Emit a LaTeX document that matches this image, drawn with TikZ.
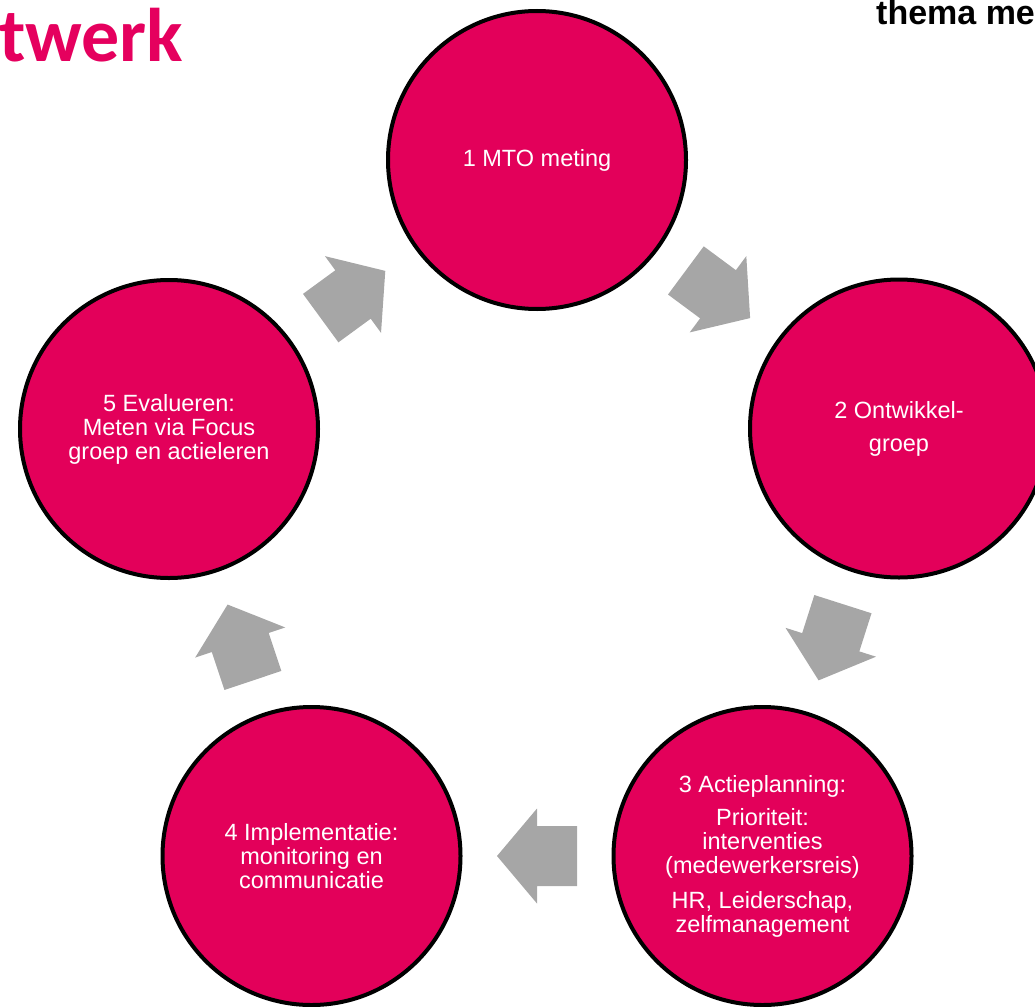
\documentclass[tikz,border=0pt]{standalone}
\usepackage{fontspec}
\setmainfont{Liberation Sans}
\newfontfamily\titlefont{Carlito}
\usetikzlibrary{calc}
\definecolor{mtopink}{HTML}{E3005A}
\definecolor{titlepink}{HTML}{E5005E}
\definecolor{arrowgray}{HTML}{A6A6A6}
\tikzset{
    stage/.style={circle, draw=black, line width=4pt, fill=mtopink, minimum size=298pt, inner sep=0pt, text=white, align=center, font=\fontsize{23.5}{24}\selectfont},
    heading/.style={anchor=base west, inner sep=0pt},
    cyclearrow/.pic={\fill[arrowgray] (-40,-30) -- (0,-30) -- (0,-47.5) -- (40,0) -- (0,47.5) -- (0,30) -- (-40,30) -- cycle;}
}

\begin{document}
\begin{tikzpicture}[x=1pt, y=-1pt]
    \useasboundingbox (0,0) rectangle (1035,1006);
    % Nodes
    \node (mto) [stage] at (537,160) {1 MTO meting};
    \node (ontw) [stage] at (899,428.5) {2 Ontwikkel-\\[9pt]groep};
    \node (actie) [stage] at (762.5,856) {3 Actieplanning:\\[9pt]Prioriteit:\\interventies\\(medewerkersreis)\\[11pt]HR, Leiderschap,\\zelfmanagement};
    \node (impl) [stage] at (311.5,856) {4 Implementatie:\\monitoring en\\communicatie};
    \node (eval) [stage] at (169,429) {5 Evalueren:\\Meten via Focus\\groep en actieleren};
    % Headings
    \node (title) [heading, text=titlepink, font=\titlefont\bfseries\fontsize{76}{76}\selectfont] at (-1,62) {twerk};
    \node (thema) [heading, font=\bfseries\fontsize{34}{34}\selectfont] at (876,25) {thema me};
    % Arrows
    \path (mto) -- (ontw) pic[pos=0.5, sloped, allow upside down] {cyclearrow};
    \path (ontw) -- (actie) pic[pos=0.5, sloped, allow upside down] {cyclearrow};
    \path (actie) -- (impl) pic[pos=0.5, sloped, allow upside down] {cyclearrow};
    \path (impl) -- (eval) pic[pos=0.5, sloped, allow upside down] {cyclearrow};
    \path (eval) -- (mto) pic[pos=0.5, sloped, allow upside down] {cyclearrow};
\end{tikzpicture}
\end{document}
